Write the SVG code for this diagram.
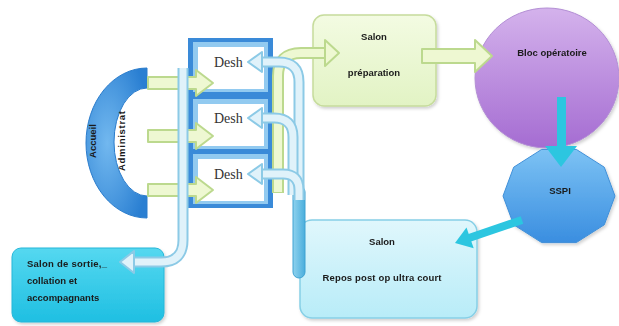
<svg xmlns="http://www.w3.org/2000/svg" width="619" height="326" viewBox="0 0 619 326">
<defs>
<radialGradient id="gRing" cx="0.35" cy="0.5" r="0.7">
<stop offset="0" stop-color="#72b8ef"/><stop offset="1" stop-color="#2a7fd2"/>
</radialGradient>
<linearGradient id="gPrep" x1="0" y1="0" x2="0" y2="1">
<stop offset="0" stop-color="#f3fbe2"/><stop offset="1" stop-color="#e2f3c4"/>
</linearGradient>
<linearGradient id="gBloc" x1="0" y1="0" x2="0" y2="1">
<stop offset="0" stop-color="#d4b2ec"/><stop offset="1" stop-color="#a56cd2"/>
</linearGradient>
<linearGradient id="gSspi" x1="0" y1="0" x2="0" y2="1">
<stop offset="0" stop-color="#7cc2f4"/><stop offset="1" stop-color="#3a8ee0"/>
</linearGradient>
<linearGradient id="gRepos" x1="0" y1="0" x2="0" y2="1">
<stop offset="0" stop-color="#e0f7fc"/><stop offset="1" stop-color="#b8ecf8"/>
</linearGradient>
<linearGradient id="gSortie" x1="0" y1="0" x2="0" y2="1">
<stop offset="0" stop-color="#55d8f0"/><stop offset="1" stop-color="#1fbfe2"/>
</linearGradient>
<linearGradient id="gStem" x1="0" y1="0" x2="1" y2="0">
<stop offset="0" stop-color="#8fd2ee"/><stop offset="1" stop-color="#4aaedc"/>
</linearGradient>
<filter id="sh" x="-10%" y="-10%" width="130%" height="130%">
<feDropShadow dx="1.5" dy="2" stdDeviation="1.5" flood-color="#000" flood-opacity="0.18"/>
</filter>
</defs>
<style>
.lbl{font-family:"Liberation Sans",Arial,sans-serif;font-weight:bold;font-size:9.5px;fill:#1a1a1a}
.desh{font-family:"Liberation Serif","Times New Roman",serif;font-size:14px;fill:#333}
.gOut{fill:none;stroke:#bcd98e;stroke-width:12}
.gIn{fill:none;stroke:#eef8d2;stroke-width:8}
.gHead{fill:#eef8d2;stroke:#bcd98e;stroke-width:2;stroke-linejoin:round}
.bOut{fill:none;stroke:#8ccae6;stroke-width:11}
.bIn{fill:none;stroke:#e0f2fa;stroke-width:7}
.bHead{fill:#e0f2fa;stroke:#8ccae6;stroke-width:2;stroke-linejoin:round}
.cy{fill:#2cc6e0}
</style>
<rect width="619" height="326" fill="#ffffff"/>

<g id="accueil">
<path d="M147 68 A 61 75 0 0 0 147 218 L147 196 A 33 54 0 0 1 147 88 Z" fill="url(#gRing)" stroke="#2a7ccc" stroke-width="1"/>
<text class="lbl" transform="translate(96,141) rotate(-90)" text-anchor="middle" font-size="9">Accueil</text>
<text class="lbl" transform="translate(125,141) rotate(-90)" text-anchor="middle" font-size="9" textLength="60">Administrat</text>
</g>

<g id="desh-frame">
<rect x="188" y="38" width="85" height="170" fill="#3a8ad8"/>
</g>
<g id="desh1">
<rect x="193" y="42" width="75" height="50" fill="#92caf0"/>
<rect x="198" y="47" width="66" height="42" fill="#ffffff"/>
<text class="desh" x="214" y="67">Desh</text>
</g>
<g id="desh2">
<rect x="193" y="99" width="75" height="50" fill="#92caf0"/>
<rect x="198" y="104" width="66" height="42" fill="#ffffff"/>
<text class="desh" x="214" y="123">Desh</text>
</g>
<g id="desh3">
<rect x="193" y="154" width="75" height="50" fill="#92caf0"/>
<rect x="198" y="159" width="66" height="42" fill="#ffffff"/>
<text class="desh" x="214" y="179">Desh</text>
</g>

<g id="prep" filter="url(#sh)">
<rect x="313" y="15" width="123" height="91" rx="11" fill="url(#gPrep)" stroke="#c6dc9c" stroke-width="1.5"/>
<text class="lbl" x="374" y="40" text-anchor="middle">Salon</text>
<text class="lbl" x="374" y="76" text-anchor="middle">préparation</text>
</g>

<g id="bloc" filter="url(#sh)">
<ellipse cx="547" cy="78" rx="72" ry="70" fill="url(#gBloc)" stroke="#b38fd4" stroke-width="1"/>
<text class="lbl" x="552" y="56" text-anchor="middle">Bloc opératoire</text>
</g>

<g id="sspi" filter="url(#sh)">
<polygon points="541.7,149.4 576.3,149.4 604.3,167.2 615,196 604.3,224.8 576.3,242.6 541.7,242.6 513.7,224.8 503,196 513.7,167.2" fill="url(#gSspi)" stroke="#3f8fd8" stroke-width="1"/>
<text class="lbl" x="560" y="194" text-anchor="middle">SSPI</text>
</g>

<g id="repos" filter="url(#sh)">
<rect x="300" y="220" width="177" height="98" rx="12" fill="url(#gRepos)" stroke="#86cfe6" stroke-width="1.5"/>
<text class="lbl" x="382" y="245" text-anchor="middle">Salon</text>
<text class="lbl" x="382" y="281" text-anchor="middle" textLength="119" font-size="9">Repos post op ultra court</text>
</g>

<g id="sortie" filter="url(#sh)">
<rect x="12" y="248" width="152" height="74" rx="9" fill="url(#gSortie)" stroke="#26b6d8" stroke-width="1"/>
<text class="lbl" x="27" y="267" textLength="80" font-size="9">Salon de sortie,_</text>
<text class="lbl" x="27" y="284" font-size="9">collation et</text>
<text class="lbl" x="27" y="301" font-size="9">accompagnants</text>
</g>

<g id="connectors">
<polygon class="gHead" points="148,77 196,77 196,70 213,83 196,96 196,89 148,89"/>
<polygon class="gHead" points="148,130 196,130 196,123 213,136 196,149 196,142 148,142"/>
<polygon class="gHead" points="148,184 196,184 196,177 213,190 196,203 196,196 148,196"/>
<path class="bOut" d="M183 68 V240 Q183 262 161 262 H134"/>
<path class="bIn" d="M183 68 V240 Q183 262 161 262 H133"/>
<polygon class="bHead" points="134,251 120,262 134,273"/>
<path class="gOut" d="M278 193 V76 Q278 53 301 53 H325"/>
<path class="gIn" d="M278 192 V76 Q278 53 301 53 H326"/>
<polygon class="gHead" points="325,40 339,53 325,66"/>
<polygon class="gHead" points="422,49 475,49 475,40 492,56 475,72 475,63 422,63"/>
<rect class="cy" x="557" y="97" width="9" height="51"/>
<polygon class="cy" points="545,146 577,146 561,167"/>
<line x1="522" y1="220" x2="469" y2="238" stroke="#2cc6e0" stroke-width="8"/>
<polygon class="cy" points="473.7,248.2 455,243 466.5,227.4"/>
<rect x="293" y="186" width="12" height="92" rx="6" fill="url(#gStem)" stroke="#3ea2d2" stroke-width="1"/>
<path class="bOut" d="M299 200 V82 Q299 62 279 62 H262"/>
<path class="bIn" d="M299 200 V82 Q299 62 279 62 H261"/>
<polygon class="bHead" points="262,52 248,62 262,72"/>
<path class="bOut" d="M293 195 V137 Q293 118 274 118 H262"/>
<path class="bIn" d="M293 195 V137 Q293 118 274 118 H261"/>
<polygon class="bHead" points="262,108 248,118 262,128"/>
<path class="bOut" d="M299 200 V190 Q299 174 283 174 H262"/>
<path class="bIn" d="M299 200 V190 Q299 174 283 174 H261"/>
<polygon class="bHead" points="262,164 248,174 262,184"/>
</g>
</svg>
